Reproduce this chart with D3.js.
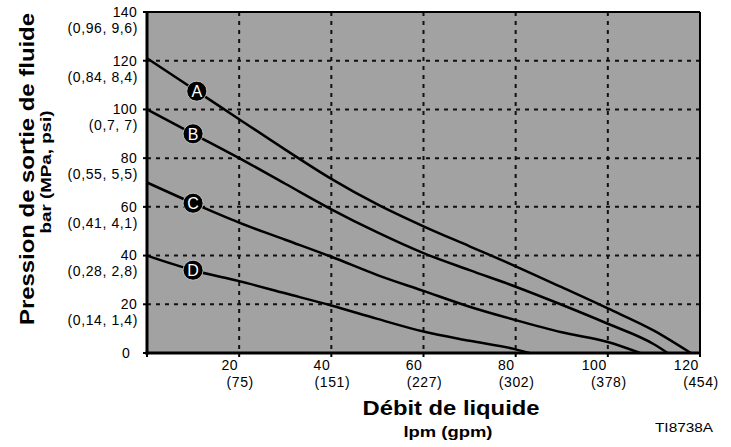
<!DOCTYPE html>
<html>
<head>
<meta charset="utf-8">
<script src="https://cdn.jsdelivr.net/npm/d3@7"></script>
<style>
  body { margin: 0; background: #fff; }
  svg { display: block; font-family: "Liberation Sans", Arial, sans-serif; }
</style>
</head>
<body>
<script>
// flow (lpm) vs outlet pressure (bar) for the four curves
const flowA = [0, 10, 20, 30, 40, 50, 60, 70, 80, 90, 100, 110, 118];
const presA = [121, 108.5, 96, 83.5, 71.5, 61, 52, 43.8, 35.6, 27, 18.3, 9.2, 0];
const flowB = [0, 10, 20, 30, 40, 50, 60, 70, 80, 90, 100, 110, 113];
const presB = [100, 90, 80, 69.5, 59, 49.5, 41, 34, 27.2, 19.8, 12, 3.6, 0];
const flowC = [0, 10, 20, 30, 40, 50, 60, 70, 80, 90, 100, 107];
const presC = [70, 61.5, 53.5, 46.5, 39.5, 32, 25.5, 19, 13.5, 8.5, 4.5, 0];
const flowD = [0, 10, 20, 30, 40, 50, 60, 70, 80, 83];
const presD = [40, 34, 29.5, 24.5, 19.5, 14, 8.8, 5, 1.5, 0];

const curveNames = ["A", "B", "C", "D"];
const labelFlow = [10.8, 10, 10, 10];

const xTicks = [20, 40, 60, 80, 100, 120];
const xTickGpm = ["(75)", "(151)", "(227)", "(302)", "(378)", "(454)"];
const yTicks = [0, 20, 40, 60, 80, 100, 120, 140];
const yTickAlt = ["", "(0,14, 1,4)", "(0,28, 2,8)", "(0,41, 4,1)", "(0,55, 5,5)", "(0,7, 7)", "(0,84, 8,4)", "(0,96, 9,6)"];

let svg = null;
let x, y = null;
let plot = {left: 147, right: 700, top: 12, bottom: 353};

const series = [
  {name: "A", flow: flowA, pres: presA},
  {name: "B", flow: flowB, pres: presB},
  {name: "C", flow: flowC, pres: presC},
  {name: "D", flow: flowD, pres: presD}
].map(s => ({name: s.name, points: s.flow.map((f, i) => ({f: f, p: s.pres[i]}))}));

appendSvg("body");
setupScales();
appendBackground();
appendGrid();
appendCurves();
appendFrame();
appendYAxis();
appendXAxis();
appendMarkers();
appendTitles();

function appendSvg(domElement) {
  svg = d3.select(domElement).append("svg")
    .attr("width", 731)
    .attr("height", 447);
}

function setupScales() {
  x = d3.scaleLinear().domain([0, 120]).range([plot.left, plot.right]);
  y = d3.scaleLinear().domain([0, 140]).range([plot.bottom, plot.top]);
}

function appendBackground() {
  svg.append("rect")
    .attr("x", x(0)).attr("y", y(140))
    .attr("width", x(120) - x(0))
    .attr("height", y(0) - y(140))
    .attr("fill", "#a2a2a2");
}

function appendGrid() {
  // dashed grid
  svg.append("g").selectAll("line")
    .data(xTicks.slice(0, -1))
    .enter().append("line")
    .attr("x1", d => x(d)).attr("x2", d => x(d))
    .attr("y1", y(140)).attr("y2", y(0))
    .attr("stroke", "#111").attr("stroke-width", 2)
    .attr("stroke-dasharray", "4,5");

  svg.append("g").selectAll("line")
    .data(yTicks.slice(1, -1))
    .enter().append("line")
    .attr("x1", x(0)).attr("x2", x(120))
    .attr("y1", d => y(d)).attr("y2", d => y(d))
    .attr("stroke", "#111").attr("stroke-width", 2)
    .attr("stroke-dasharray", "4,5");
}

function appendCurves() {
  let line = d3.line()
    .x(d => x(d.f))
    .y(d => y(d.p))
    .curve(d3.curveMonotoneX);

  svg.append("g").selectAll("path")
    .data(series)
    .enter().append("path")
    .attr("d", d => line(d.points))
    .attr("fill", "none")
    .attr("stroke", "#000")
    .attr("stroke-width", 2.5);
}

function appendFrame() {
  svg.append("line")
    .attr("x1", x(0)).attr("x2", x(120)).attr("y1", y(140)).attr("y2", y(140))
    .attr("stroke", "#000").attr("stroke-width", 2);
  svg.append("line")
    .attr("x1", x(120)).attr("x2", x(120)).attr("y1", y(140)).attr("y2", y(0))
    .attr("stroke", "#000").attr("stroke-width", 2);
}

function appendYAxis() {
  let g = svg.append("g").attr("transform", `translate(${x(0)},0)`);
  g.append("line")
    .attr("y1", y(140) - 1).attr("y2", y(0) + 1.5)
    .attr("stroke", "#000").attr("stroke-width", 3);

  let t = g.selectAll(".ytick").data(yTicks).enter().append("g")
    .attr("transform", d => `translate(0,${y(d)})`);
  t.append("line").attr("x1", -4).attr("x2", 0)
    .attr("stroke", "#000").attr("stroke-width", 2);
  t.append("text")
    .attr("x", (d, i) => i === 0 ? -17 : -10)
    .attr("dy", "0.35em")
    .attr("text-anchor", "end")
    .attr("font-size", 14)
    .attr("letter-spacing", 0.3)
    .text(d => d);
  t.append("text")
    .attr("x", -9)
    .attr("y", 16)
    .attr("dy", "0.35em")
    .attr("text-anchor", "end")
    .attr("font-size", 14)
    .attr("letter-spacing", 0.6)
    .text((d, i) => yTickAlt[i]);
}

function appendXAxis() {
  let g = svg.append("g").attr("transform", `translate(0,${y(0)})`);
  g.append("line")
    .attr("x1", x(0) - 1.5).attr("x2", x(120) + 1)
    .attr("stroke", "#000").attr("stroke-width", 3);

  let t = g.selectAll(".xtick").data([0].concat(xTicks)).enter().append("g")
    .attr("transform", d => `translate(${x(d)},0)`);
  t.append("line").attr("y1", 0).attr("y2", 4)
    .attr("stroke", "#000").attr("stroke-width", 2);

  let lab = t.filter(d => d > 0);
  lab.append("text")
    .attr("x", -1)
    .attr("y", 17)
    .attr("text-anchor", "end")
    .attr("font-size", 14)
    .attr("letter-spacing", 0.6)
    .text(d => d);
  lab.append("text")
    .attr("x", 1)
    .attr("y", 34)
    .attr("text-anchor", "middle")
    .attr("font-size", 14)
    .attr("letter-spacing", 0.6)
    .text((d, i) => xTickGpm[i]);
}

function appendMarkers() {
  let interp = (pts, f) => {
    let i = d3.bisector(d => d.f).right(pts, f) - 1;
    let a = pts[i], b = pts[i + 1];
    return a.p + (b.p - a.p) * (f - a.f) / (b.f - a.f);
  };
  let m = svg.append("g").selectAll("g")
    .data(series)
    .enter().append("g")
    .attr("transform", (d, i) => `translate(${x(labelFlow[i])},${y(interp(d.points, labelFlow[i]))})`);
  m.append("circle")
    .attr("r", 10)
    .attr("fill", "#000")
    .attr("stroke", "#cfcfcf")
    .attr("stroke-width", 0.8);
  m.append("text")
    .attr("dy", "0.36em")
    .attr("text-anchor", "middle")
    .attr("fill", "#fff")
    .attr("font-size", 16)
    .text((d, i) => curveNames[i]);
}

function appendTitles() {
  svg.append("text")
    .attr("x", 451).attr("y", 415)
    .attr("text-anchor", "middle")
    .attr("font-size", 21).attr("font-weight", "bold")
    .attr("textLength", 177).attr("lengthAdjust", "spacingAndGlyphs")
    .text("Débit de liquide");
  svg.append("text")
    .attr("x", 448).attr("y", 437)
    .attr("text-anchor", "middle")
    .attr("font-size", 15).attr("font-weight", "bold")
    .attr("textLength", 89).attr("lengthAdjust", "spacingAndGlyphs")
    .text("lpm (gpm)");
  svg.append("text")
    .attr("x", 713).attr("y", 432)
    .attr("text-anchor", "end")
    .attr("font-size", 13)
    .attr("textLength", 58).attr("lengthAdjust", "spacingAndGlyphs")
    .text("TI8738A");

  svg.append("text")
    .attr("transform", "translate(34,169) rotate(-90)")
    .attr("text-anchor", "middle")
    .attr("font-size", 21).attr("font-weight", "bold")
    .attr("textLength", 312).attr("lengthAdjust", "spacingAndGlyphs")
    .text("Pression de sortie de fluide");
  svg.append("text")
    .attr("transform", "translate(51,172) rotate(-90)")
    .attr("text-anchor", "middle")
    .attr("font-size", 15).attr("font-weight", "bold")
    .attr("textLength", 123).attr("lengthAdjust", "spacingAndGlyphs")
    .text("bar (MPa, psi)");
}
</script>
</body>
</html>
